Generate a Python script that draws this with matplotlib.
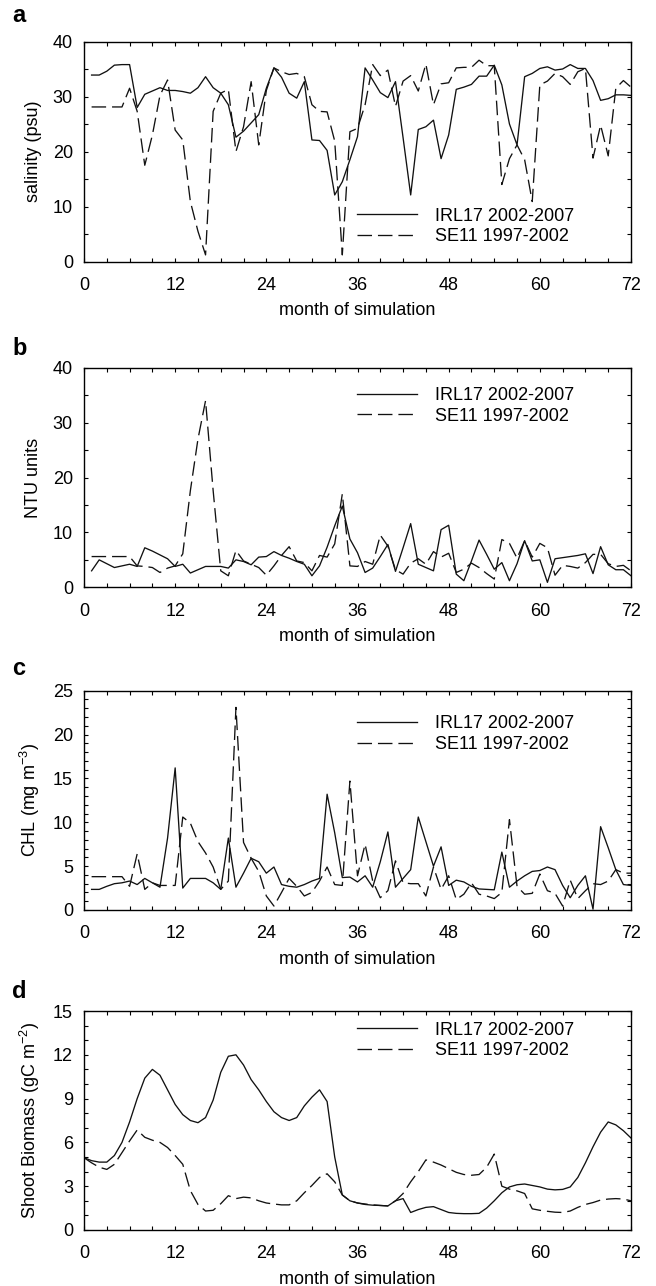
import numpy as np
import matplotlib
matplotlib.use("Agg")
import matplotlib.pyplot as plt
from matplotlib.ticker import MultipleLocator

plt.rcParams['font.family'] = ['Liberation Sans', 'DejaVu Sans']
plt.rcParams['mathtext.fontset'] = 'custom'
plt.rcParams['mathtext.rm'] = 'Liberation Sans'
plt.rcParams['mathtext.default'] = 'regular'
plt.rcParams['font.size'] = 13

# months 1..72 for panels a-c, 0..72 for panel d
month = np.arange(1, 73)
month_d = np.arange(0, 73)

# a: salinity (psu)
sal_irl = [33.9, 33.9, 34.6, 35.7, 35.8, 35.8, 28.0, 30.4, 31.0, 31.6,
           31.1, 31.1, 30.9, 30.6, 31.6, 33.6, 31.6, 30.6, 28.5, 22.6,
           23.7, 25.2, 26.7, 31.5, 35.2, 33.5, 30.6, 29.7, 32.7, 22.1,
           22.0, 20.2, 12.1, 14.5, 18.5, 22.7, 35.2, 33.0, 30.7, 29.8,
           32.7, 22.5, 12.1, 24.0, 24.5, 25.7, 18.7, 23.0, 31.3, 31.7,
           32.2, 33.7, 33.7, 35.7, 32.1, 25.0, 21.2, 33.6, 34.2, 35.1,
           35.4, 34.8, 35.0, 35.8, 35.1, 35.1, 32.9, 29.3, 29.6, 30.3,
           30.3, 30.2]
sal_se = [28.1, 28.1, 28.1, 28.1, 28.1, 31.5, 27.3, 17.5, 23.0, 30.2,
          33.0, 23.9, 22.1, 10.9, 5.5, 1.2, 27.3, 30.6, 31.3, 20.0,
          24.5, 32.7, 21.2, 31.1, 35.2, 34.5, 34.0, 34.2, 33.6, 28.5,
          27.3, 27.2, 21.9, 1.2, 23.6, 24.2, 28.5, 35.8, 33.8, 34.8,
          28.2, 32.8, 33.8, 31.0, 35.9, 28.5, 32.3, 32.5, 35.2, 35.3,
          35.3, 36.6, 35.6, 35.6, 14.0, 18.7, 21.2, 18.5, 10.9, 32.1,
          32.8, 34.2, 33.6, 32.2, 34.5, 35.1, 18.8, 24.8, 19.2, 31.5,
          32.9, 31.7]

# b: turbidity (NTU)
ntu_irl = [3.0, 5.0, 4.3, 3.6, 3.9, 4.2, 3.8, 7.2, 6.6, 5.9,
           5.2, 3.8, 4.2, 2.6, 3.2, 3.8, 3.8, 3.8, 3.5, 5.0,
           4.7, 4.1, 5.5, 5.6, 6.5, 5.8, 5.3, 4.7, 4.2, 2.1,
           3.9, 7.3, 11.2, 14.8, 8.8, 6.3, 2.7, 3.5, 5.6, 7.8,
           2.9, 7.2, 11.6, 4.2, 3.6, 3.0, 10.5, 11.3, 2.4, 1.2,
           4.8, 8.6, 6.0, 3.3, 4.5, 1.2, 4.3, 8.5, 4.8, 5.0,
           0.9, 5.2, 5.4, 5.6, 5.8, 6.1, 2.5, 7.4, 4.1, 3.2,
           3.2, 2.1]
ntu_se = [5.6, 5.6, 5.6, 5.6, 5.6, 5.6, 3.9, 3.8, 3.6, 2.7,
          3.5, 3.9, 6.1, 17.6, 27.0, 34.0, 17.6, 3.0, 2.1, 6.7,
          4.8, 4.2, 3.6, 2.2, 3.9, 5.8, 7.4, 4.8, 4.5, 3.0,
          5.8, 5.5, 7.9, 17.0, 3.9, 3.8, 4.7, 4.2, 9.5, 7.5,
          3.2, 2.4, 4.4, 5.2, 4.2, 6.5, 5.5, 6.2, 2.7, 3.3,
          4.4, 3.6, 2.5, 1.5, 8.7, 8.0, 5.3, 8.5, 5.5, 8.0,
          7.2, 2.2, 4.0, 3.8, 3.5, 4.5, 6.0, 6.0, 4.3, 3.8,
          4.0, 3.0]

# c: chlorophyll (mg m-3)
chl_irl = [2.35, 2.35, 2.7, 3.0, 3.1, 3.3, 2.9, 3.6, 3.1, 2.6,
           8.2, 16.2, 2.5, 3.6, 3.6, 3.6, 3.1, 2.35, 8.2, 2.6,
           4.2, 5.9, 5.5, 4.2, 4.9, 2.9, 2.7, 2.6, 2.9, 3.3,
           3.6, 13.2, 8.8, 3.7, 3.75, 3.2, 3.9, 2.6, 5.5, 8.9,
           2.6, 3.6, 4.6, 10.6, 7.8, 5.0, 7.2, 2.8, 3.4, 3.2,
           2.7, 2.4, 2.35, 2.3, 6.6, 2.6, 3.3, 3.9, 4.4, 4.5,
           4.9, 4.6, 2.8, 1.4, 2.8, 3.9, 0.1, 9.5, 7.1, 4.6,
           2.9, 2.8]
chl_se = [3.8, 3.8, 3.8, 3.8, 3.8, 2.7, 6.4, 2.35, 3.1, 2.8,
          2.8, 2.8, 10.6, 9.9, 7.8, 6.5, 4.9, 2.35, 3.3, 23.1,
          7.7, 5.9, 4.4, 1.6, 0.45, 2.0, 3.6, 2.7, 1.6, 2.0,
          3.3, 4.9, 2.9, 2.8, 14.7, 3.9, 7.5, 3.3, 1.4, 2.2,
          5.6, 3.1, 3.0, 3.0, 1.6, 4.9, 2.35, 3.9, 1.2, 1.8,
          3.1, 1.8, 1.6, 1.3, 2.0, 10.3, 2.7, 1.8, 1.9, 4.1,
          2.2, 1.9, 0.45, 3.4, 1.3, 2.2, 3.0, 2.9, 3.3, 4.6,
          4.2, 4.2]

# d: shoot biomass (gC m-2)
bio_irl = [4.95, 4.75, 4.65, 4.65, 5.1, 6.0, 7.4, 9.0, 10.4, 11.0,
           10.6, 9.6, 8.6, 7.9, 7.5, 7.35, 7.7, 8.9, 10.8, 11.9,
           12.0, 11.3, 10.3, 9.6, 8.8, 8.1, 7.7, 7.5, 7.7, 8.5,
           9.1, 9.6, 8.8, 5.0, 2.4, 2.0, 1.85, 1.75, 1.7, 1.68,
           1.65, 2.0, 2.15, 1.2, 1.4, 1.55, 1.6, 1.4, 1.2, 1.14,
           1.12, 1.12, 1.14, 1.5, 2.0, 2.55, 2.95, 3.1, 3.15, 3.05,
           2.95, 2.8, 2.75, 2.78, 2.95, 3.6, 4.6, 5.7, 6.7, 7.4,
           7.2, 6.8, 6.3]
bio_se = [4.95, 4.6, 4.3, 4.15, 4.5, 5.3, 6.1, 6.85, 6.35, 6.15,
          6.0, 5.65, 5.1, 4.5, 2.7, 1.75, 1.3, 1.35, 1.8, 2.35,
          2.15, 2.25, 2.2, 2.0, 1.85, 1.78, 1.72, 1.72, 2.0, 2.55,
          3.05, 3.6, 3.85, 3.3, 2.4, 2.0, 1.85, 1.78, 1.72, 1.68,
          1.65, 2.0, 2.5, 3.3, 4.0, 4.8, 4.65, 4.45, 4.2, 3.95,
          3.8, 3.75, 3.8, 4.3, 5.2, 3.0, 2.8, 2.68, 2.5, 1.45,
          1.35, 1.28, 1.22, 1.2, 1.3, 1.55, 1.75, 1.88, 2.05, 2.12,
          2.15, 2.12, 2.0]

label_irl = 'IRL17 2002-2007'
label_se = 'SE11 1997-2002'

panels = [
    ('a', month, sal_irl, sal_se, 'salinity (psu)', 40, 10, 5, 0.245),
    ('b', month, ntu_irl, ntu_se, 'NTU units', 40, 10, 5, 0.912),
    ('c', month, chl_irl, chl_se, 'CHL (mg m$^{-3}$)', 25, 5, 1, 0.888),
    ('d', month_d, bio_irl, bio_se, 'Shoot Biomass (gC m$^{-2}$)', 15, 3, 1, 0.951),
]

W, H = 656, 1286
fig = plt.figure(figsize=(W / 100, H / 100), dpi=100)

# axes boxes in pixels: (top, bottom)
boxes = [(41.5, 261.5), (367.7, 587.3), (690.7, 910.0), (1011.0, 1230.0)]
letter_base = [22, 355, 675, 998]
left_px, right_px = 84, 631

for (letter, x, y1, y2, ylab, ymax, ymaj, ymin, legy), (top, bot), lb in zip(panels, boxes, letter_base):
    ax = fig.add_axes([left_px / W, 1 - bot / H, (right_px - left_px) / W, (bot - top) / H])
    ax.plot(x, y1, color='#111111', lw=0.95, label=label_irl)
    ax.plot(x, y2, color='#111111', lw=0.95, linestyle=(0, (11, 4.5)), label=label_se)
    ax.set_xlim(0, 72)
    ax.set_ylim(0, ymax)
    ax.xaxis.set_major_locator(MultipleLocator(12))
    ax.xaxis.set_minor_locator(MultipleLocator(3))
    ax.yaxis.set_major_locator(MultipleLocator(ymaj))
    ax.yaxis.set_minor_locator(MultipleLocator(ymin))
    ax.tick_params(which='both', direction='in', top=True, right=True,
                   length=3, width=0.8, labelsize=13)
    ax.tick_params(axis='x', which='major', pad=11)
    ax.tick_params(axis='y', which='major', pad=8)
    for s in ax.spines.values():
        s.set_linewidth(1.0)
    ax.set_xlabel('month of simulation', fontsize=13, labelpad=6)
    ax.set_ylabel(ylab, fontsize=13, labelpad=8)
    ax.legend(loc='upper left', bbox_to_anchor=(0.499, legy), frameon=False,
              handlelength=3.3, handletextpad=1.05, borderpad=0, borderaxespad=0,
              labelspacing=0.2, fontsize=13)
    fig.text(12 / W, 1 - lb / H, letter, fontsize=17, fontweight='bold',
             ha='left', va='baseline')

fig.savefig('out.png', dpi=100)
